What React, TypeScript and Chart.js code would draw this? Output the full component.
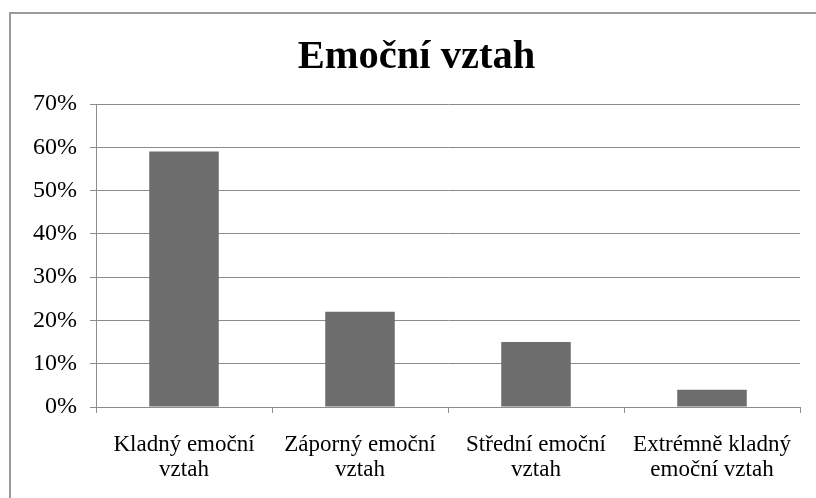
import React, { useEffect, useRef } from "react";
import { Chart, registerables } from "chart.js";

Chart.register(...registerables);

const TITLE = "Emoční vztah";
const CATEGORIES: string[][] = [
  ["Kladný emoční", "vztah"],
  ["Záporný emoční", "vztah"],
  ["Střední emoční", "vztah"],
  ["Extrémně kladný", "emoční vztah"],
];
const VALUES: number[] = [59, 22, 15, 4];
const Y_MAX = 70;
const Y_STEP = 10;

const FONT = "'Liberation Serif', 'Times New Roman', serif";
const GRID = "#8c8c8c";
const BAR = "#6d6d6d";

export default function App() {
  const ref = useRef<HTMLCanvasElement | null>(null);

  useEffect(() => {
    if (!ref.current) return;
    const chart = new Chart(ref.current, {
      type: "bar",
      data: {
        labels: CATEGORIES,
        datasets: [
          {
            data: VALUES,
            backgroundColor: BAR,
            borderWidth: 0,
            barPercentage: 0.395,
            categoryPercentage: 1,
          },
        ],
      },
      options: {
        animation: false,
        responsive: false,
        maintainAspectRatio: false,
        layout: { padding: { left: 22, right: 16, top: 0, bottom: 0 } },
        plugins: {
          legend: { display: false },
          tooltip: { enabled: false },
          title: {
            display: true,
            text: TITLE,
            color: "#000",
            font: { family: FONT, size: 40.5, weight: "bold", lineHeight: 1.2 },
            padding: { top: 19, bottom: 22.4 },
          },
        },
        scales: {
          x: {
            afterFit: (s: any) => {
              s.height = 91;
            },
            grid: {
              drawOnChartArea: false,
              drawTicks: true,
              tickLength: 6,
              color: GRID,
              offset: true,
            },
            border: { color: GRID, width: 1 },
            ticks: {
              color: "#000",
              padding: 20,
              maxRotation: 0,
              autoSkip: false,
              font: { family: FONT, size: 23, lineHeight: 1.08 },
            },
          },
          y: {
            min: 0,
            max: Y_MAX,
            afterFit: (s: any) => {
              s.width = 63;
            },
            grid: {
              color: GRID,
              drawTicks: true,
              tickLength: 6,
            },
            border: { color: GRID, width: 1 },
            ticks: {
              stepSize: Y_STEP,
              color: "#000",
              padding: 13,
              font: { family: FONT, size: 24 },
              callback: (v: any) => `${v}%`,
            },
          },
        },
      },
    });
    return () => chart.destroy();
  }, []);

  return (
    <div
      style={{
        position: "absolute",
        left: 9,
        top: 12,
        width: 830,
        height: 500,
        border: "2px solid #9b9b9b",
        background: "#fff",
        overflow: "hidden",
      }}
    >
      <canvas ref={ref} width={805} height={484} style={{ display: "block" }} />
    </div>
  );
}
